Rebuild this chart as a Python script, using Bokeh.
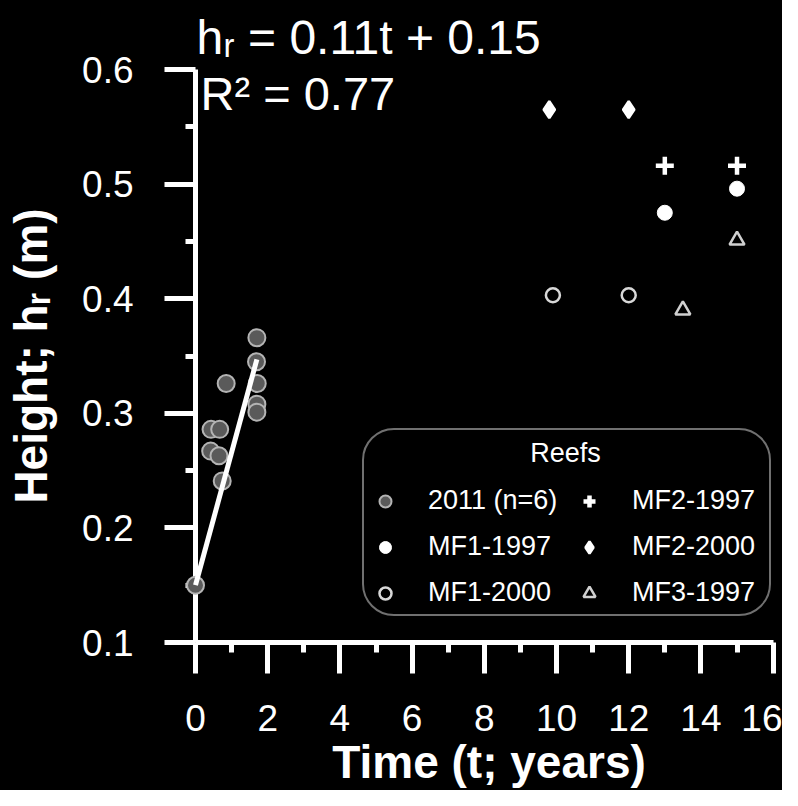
from bokeh.plotting import figure
from bokeh.models import Range1d, Label, Legend, LegendItem, FixedTicker
from bokeh.embed import file_html
from bokeh.resources import INLINE

# ---- data ----
t_2011 = [0.0, 0.43, 0.67, 0.42, 0.65, 0.74, 0.85, 1.70, 1.69, 1.71, 1.70, 1.70]
h_2011 = [0.150, 0.286, 0.286, 0.267, 0.263, 0.241, 0.326, 0.366, 0.345, 0.326, 0.308, 0.301]
fit_t = [0.0, 1.70]
fit_h = [0.150, 0.347]
t_mf1_1997 = [13.0, 15.0]
h_mf1_1997 = [0.475, 0.496]
t_mf1_2000 = [9.9, 12.0]
h_mf1_2000 = [0.403, 0.403]
t_mf2_1997 = [13.0, 15.0]
h_mf2_1997 = [0.516, 0.516]
t_mf2_2000 = [9.8, 12.0]
h_mf2_2000 = [0.565, 0.565]
t_mf3_1997 = [13.5, 15.0]
h_mf3_1997 = [0.390, 0.451]

x_ticks = [0, 2, 4, 6, 8, 10, 12, 14, 16]
y_ticks = [0.1, 0.2, 0.3, 0.4, 0.5, 0.6]
series_labels = ["2011 (n=6)", "MF1-1997", "MF1-2000", "MF2-1997", "MF2-2000", "MF3-1997"]
legend_title = "Reefs"
eq_text = "hᵣ = 0.11t + 0.15"
r2_text = "R² = 0.77"

FONT = "Liberation Sans"
WHITE = "white"

p = figure(width=782, height=790,
           x_range=Range1d(0, 16.26), y_range=Range1d(0.1, 0.6),
           output_backend="svg", toolbar_location=None,
           background_fill_color="black", border_fill_color="black",
           outline_line_color=None,
           min_border_left=195, min_border_right=0,
           min_border_top=69, min_border_bottom=145)
p.styles = {"background-color": "black"}
p.grid.visible = False

# regression equation as the (left-aligned) title above the frame
p.title.text = eq_text
p.title.align = "left"
p.title.offset = 1
p.title.text_font = FONT
p.title.text_font_size = "48px"
p.title.text_font_style = "normal"
p.title.text_color = WHITE
p.title.standoff = 12
p.title.background_fill_color = None
p.title.border_line_color = None

x_minor = [(a + b) / 2 for a, b in zip(x_ticks[:-1], x_ticks[1:])]
y_minor = [(a + b) / 2 for a, b in zip(y_ticks[:-1], y_ticks[1:])]
p.xaxis.ticker = FixedTicker(ticks=x_ticks, minor_ticks=x_minor)
p.yaxis.ticker = FixedTicker(ticks=y_ticks, minor_ticks=y_minor)
p.xaxis.bounds = (x_ticks[0], x_ticks[-1])
p.yaxis.bounds = (y_ticks[0], y_ticks[-1])

for ax in (p.xaxis, p.yaxis):
    ax.axis_line_color = WHITE
    ax.axis_line_width = 5
    ax.major_tick_line_color = WHITE
    ax.major_tick_line_width = 5
    ax.major_tick_in = 0
    ax.major_tick_out = 31
    ax.minor_tick_line_color = WHITE
    ax.minor_tick_line_width = 5
    ax.minor_tick_in = 0
    ax.minor_tick_out = 10
    ax.major_label_text_color = WHITE
    ax.major_label_text_font = FONT
    ax.major_label_text_font_size = "37px"
    ax.axis_label_text_color = WHITE
    ax.axis_label_text_font = FONT
    ax.axis_label_text_font_size = "46px"
    ax.axis_label_text_font_style = "bold"

p.xaxis.major_label_standoff = 31
p.yaxis.major_label_standoff = 31
p.xaxis.axis_label = "Time (t; years)"
p.xaxis.axis_label_standoff = 2
p.yaxis.axis_label = "Height; hᵣ (m)"
p.yaxis.axis_label_standoff = 22

r_2011 = p.scatter(t_2011, h_2011, marker="circle", size=17,
                   fill_color="#5a5a5a", line_color="#b4b4b4", line_width=2,
                   level="overlay")
p.line(fit_t, fit_h, line_color=WHITE, line_width=5, level="overlay")
r_mf1_1997 = p.scatter(t_mf1_1997, h_mf1_1997, marker="circle", size=15,
                       fill_color=WHITE, line_color=WHITE, line_width=1)
r_mf1_2000 = p.scatter(t_mf1_2000, h_mf1_2000, marker="circle", size=14,
                       fill_color=None, line_color="#d8d8d8", line_width=2.5)
r_mf2_1997 = p.scatter(t_mf2_1997, h_mf2_1997, marker="cross", size=18,
                       line_color=WHITE, line_width=4.5)
r_mf2_2000 = p.scatter(t_mf2_2000, h_mf2_2000, marker="diamond", size=17,
                       fill_color=WHITE, line_color=WHITE, line_width=2.5)
r_mf3_1997 = p.scatter(t_mf3_1997, h_mf3_1997, marker="triangle", size=15,
                       fill_color=None, line_color="#d0d0d0", line_width=2.5)

renderers = [r_2011, r_mf1_1997, r_mf1_2000, r_mf2_1997, r_mf2_2000, r_mf3_1997]
items = [LegendItem(label=lab, renderers=[r]) for lab, r in zip(series_labels, renderers)]

legend = Legend(items=items, location=(167, 26), orientation="vertical", nrows=3,
                title=" ", title_text_font=FONT, title_text_font_size="27px",
                title_text_color=WHITE, title_standoff=18,
                label_text_font=FONT, label_text_font_size="27px", label_text_color=WHITE,
                label_standoff=28, label_height=30, label_width=131,
                glyph_width=30, glyph_height=30, spacing=15, padding=6, margin=0,
                background_fill_color=None,
                border_line_color="#e0e0e0", border_line_width=2.5)
if "border_radius" in Legend.properties():
    legend.border_radius = 32
p.add_layout(legend, "center")

p.add_layout(Label(x=10.25, y=0.2653, text=legend_title, text_align="center",
                   text_baseline="middle", text_font=FONT, text_font_size="27px",
                   text_color=WHITE))
p.add_layout(Label(x=0.14, y=0.5792, text=r2_text, text_baseline="middle",
                   text_font=FONT, text_font_size="47px", text_color=WHITE))

open("out.html", "w").write(file_html(p, INLINE))
